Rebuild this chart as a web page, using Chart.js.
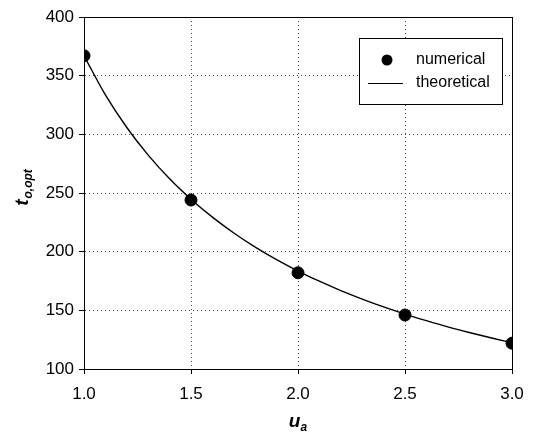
<!DOCTYPE html>
<html>
<head>
<meta charset="utf-8">
<script src="https://cdn.jsdelivr.net/npm/chart.js@4"></script>
<style>
  html, body { margin: 0; padding: 0; background: #fff; }
  #wrap { width: 536px; height: 434px; }
</style>
</head>
<body>
<div id="wrap"><canvas id="c" width="536" height="434"></canvas></div>
<script>
// numerical results
const uNum = [1.0, 1.5, 2.0, 2.5, 3.0];
const tNum = [367, 244, 182, 146, 122];

// theoretical curve
const uTheo = [1.0, 1.1, 1.2, 1.3, 1.4, 1.5, 1.6, 1.7, 1.8, 1.9, 2.0,
               2.1, 2.2, 2.3, 2.4, 2.5, 2.6, 2.7, 2.8, 2.9, 3.0];
const tTheo = [367, 333.6, 305.8, 282.3, 262.1, 244.7, 229.4, 215.9, 203.9, 193.2, 183.5,
               174.8, 166.8, 159.6, 152.9, 146.8, 141.2, 135.9, 131.1, 126.6, 122.3];

const xTicks = [1.0, 1.5, 2.0, 2.5, 3.0];
const yTicks = [100, 150, 200, 250, 300, 350, 400];

function toPoints(xs, ys) {
  return xs.map(function(x, i) { return { x: x, y: ys[i] }; });
}

// frame, axis titles with subscripts, legend box
const extras = {
  id: "extras",
  afterDraw: function(chart) {
    const ctx = chart.ctx;
    const a = chart.chartArea;
    ctx.save();
    ctx.strokeStyle = "#000";
    ctx.lineWidth = 1;
    ctx.strokeRect(Math.round(a.left) + 0.5, Math.round(a.top) + 0.5,
                   Math.round(a.right - a.left), Math.round(a.bottom - a.top));

    ctx.fillStyle = "#000";
    ctx.textBaseline = "alphabetic";

    // x title: u_a
    const xc = (a.left + a.right) / 2;
    ctx.font = "bold italic 19px 'Liberation Sans', Arial";
    const wU = ctx.measureText("u").width;
    ctx.font = "bold italic 12px 'Liberation Sans', Arial";
    const wA = ctx.measureText("a").width;
    let x0 = xc - (wU + wA) / 2;
    ctx.font = "bold italic 19px 'Liberation Sans', Arial";
    ctx.textAlign = "left";
    ctx.fillText("u", x0, 427);
    ctx.font = "bold italic 12px 'Liberation Sans', Arial";
    ctx.fillText("a", x0 + wU, 431);

    // y title: t_o,opt (rotated)
    ctx.save();
    ctx.translate(28, (a.top + a.bottom) / 2 - 5);
    ctx.rotate(-Math.PI / 2);
    ctx.font = "bold italic 19px 'Liberation Sans', Arial";
    const wT = ctx.measureText("t").width;
    ctx.font = "bold italic 12px 'Liberation Sans', Arial";
    const wS = ctx.measureText("o,opt").width;
    x0 = -(wT + wS) / 2;
    ctx.font = "bold italic 19px 'Liberation Sans', Arial";
    ctx.fillText("t", x0, 0);
    ctx.font = "bold italic 12px 'Liberation Sans', Arial";
    ctx.fillText("o,opt", x0 + wT + 1, 4);
    ctx.restore();

    // legend
    const lx = 359, ly = 38, lw = 143, lh = 66;
    ctx.fillStyle = "#fff";
    ctx.fillRect(lx, ly, lw, lh);
    ctx.strokeStyle = "#000";
    ctx.strokeRect(lx + 0.5, ly + 0.5, lw, lh);
    ctx.fillStyle = "#000";
    ctx.beginPath();
    ctx.arc(387, 60, 5.5, 0, Math.PI * 2);
    ctx.fill();
    ctx.beginPath();
    ctx.moveTo(368, 83.5);
    ctx.lineTo(403, 83.5);
    ctx.stroke();
    ctx.font = "16px 'Liberation Sans', Arial";
    ctx.textBaseline = "middle";
    ctx.fillText("numerical", 416, 60);
    ctx.fillText("theoretical", 416, 83);
    ctx.restore();
  }
};

new Chart(document.getElementById("c"), {
  type: "scatter",
  data: {
    datasets: [
      {
        label: "numerical",
        data: toPoints(uNum, tNum),
        backgroundColor: "#000",
        borderColor: "#000",
        pointRadius: 6,
        showLine: false,
        order: 0
      },
      {
        label: "theoretical",
        data: toPoints(uTheo, tTheo),
        borderColor: "#000",
        borderWidth: 1.4,
        pointRadius: 0,
        showLine: true,
        cubicInterpolationMode: "monotone",
        fill: false,
        order: 1
      }
    ]
  },
  options: {
    responsive: false,
    animation: false,
    devicePixelRatio: 1,
    layout: { padding: { left: 0, top: 17, right: 24, bottom: 0 } },
    plugins: {
      legend: { display: false },
      tooltip: { enabled: false }
    },
    scales: {
      x: {
        type: "linear",
        min: 1.0,
        max: 3.0,
        afterBuildTicks: function(s) { s.ticks = xTicks.map(function(v) { return { value: v }; }); },
        afterFit: function(s) { s.height = 65; },
        grid: {
          color: "#444",
          lineWidth: 1,
          tickBorderDash: [],
          tickColor: "#000",
          tickLength: 5
        },
        border: { display: true, color: "#000", dash: [1, 3] },
        ticks: {
          color: "#000",
          padding: 10,
          font: { family: "'Liberation Sans', Arial", size: 17 },
          callback: function(v) { return Number(v).toFixed(1); }
        }
      },
      y: {
        type: "linear",
        min: 100,
        max: 400,
        afterBuildTicks: function(s) { s.ticks = yTicks.map(function(v) { return { value: v }; }); },
        afterFit: function(s) { s.width = 84; },
        grid: {
          color: "#444",
          lineWidth: 1,
          tickBorderDash: [],
          tickColor: "#000",
          tickLength: 5
        },
        border: { display: true, color: "#000", dash: [1, 3] },
        ticks: {
          color: "#000",
          padding: 5,
          font: { family: "'Liberation Sans', Arial", size: 17 }
        }
      }
    }
  },
  plugins: [extras]
});
</script>
</body>
</html>
